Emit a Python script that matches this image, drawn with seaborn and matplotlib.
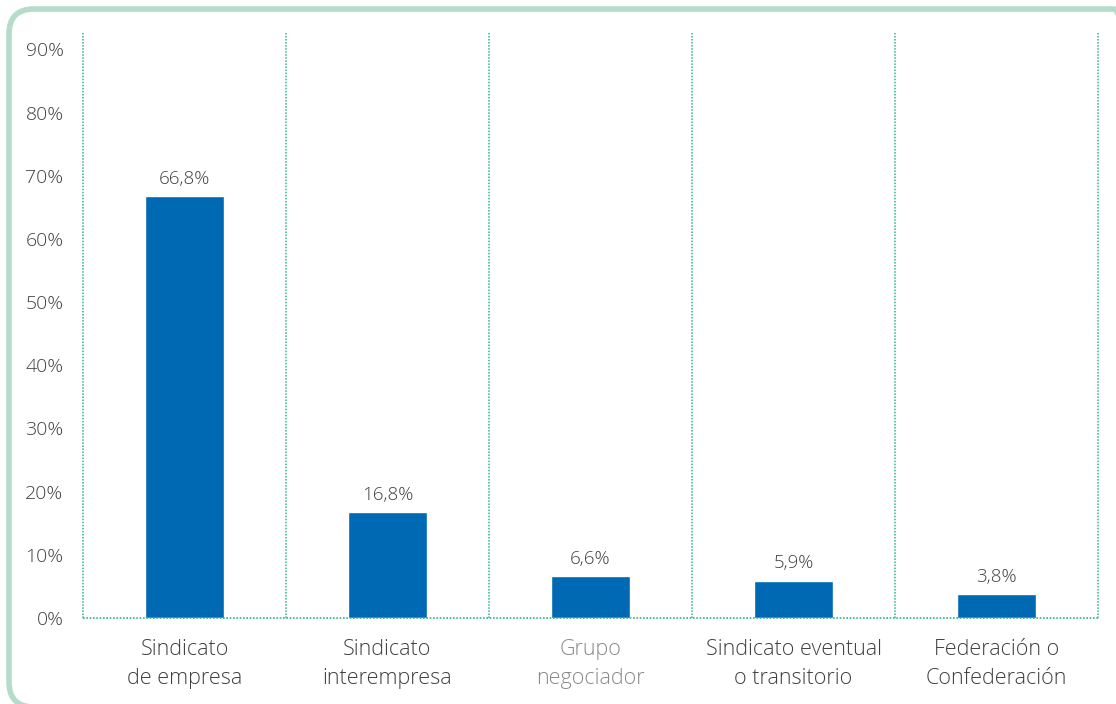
import matplotlib
matplotlib.use("Agg")
import matplotlib.pyplot as plt
from matplotlib.patches import FancyBboxPatch
import seaborn as sns
import pandas as pd

categorias = ["Sindicato\nde empresa", "Sindicato\ninterempresa", "Grupo\nnegociador",
              "Sindicato eventual\no transitorio", "Federación o\nConfederación"]
porcentajes = [66.8, 16.8, 6.6, 5.9, 3.8]
yticks = [0, 10, 20, 30, 40, 50, 60, 70, 80, 90]

df = pd.DataFrame({"cat": categorias, "pct": porcentajes})

sns.set_style("white")
plt.rcParams["font.family"] = ["Open Sans", "DejaVu Sans"]
plt.rcParams["font.weight"] = "light"

W, H = 1116, 704
fig = plt.figure(figsize=(W / 100, H / 100), dpi=100)
ax = fig.add_axes([83 / W, 86 / H, 1015 / W, 585 / H])

# marco redondeado (en pulgadas para que las esquinas sean circulares)
frame = FancyBboxPatch((0.09, -0.03), 11.3, 7.04 - 0.09 + 0.03,
                       transform=fig.dpi_scale_trans,
                       boxstyle="round,pad=0,rounding_size=0.25",
                       fill=False, edgecolor="#b5dccb", linewidth=4, zorder=0)
fig.patches.append(frame)

sns.barplot(data=df, x="cat", y="pct", color="#0069b4", width=0.385,
            saturation=1, ax=ax, zorder=3)

for c in ax.containers:
    ax.bar_label(c, labels=[f"{v:.1f}%".replace(".", ",") for v in porcentajes],
                 padding=6, fontsize=13.5, color="#404040", fontweight="light")

verde = "#2bb58a"
for x in [-0.5, 0.5, 1.5, 2.5, 3.5, 4.5]:
    ax.axvline(x, color=verde, linestyle=(0, (1, 1)), linewidth=1.1, zorder=1,
               clip_on=False)
ax.axhline(0, color=verde, linestyle=(0, (1, 1)), linewidth=1.2, zorder=4,
           clip_on=False)

ax.set_xlim(-0.5, 4.5)
ax.set_ylim(0, 92.6)
ax.set_yticks(yticks)
ax.set_yticklabels([f"{t}%" for t in yticks], fontsize=14, color="#404040",
                   fontweight="light")
ax.tick_params(axis="y", length=0, pad=14)
ax.tick_params(axis="x", length=0, pad=15, labelsize=15.5, labelcolor="#404040")
for i, lab in enumerate(ax.get_xticklabels()):
    lab.set_linespacing(1.5)
    lab.set_fontweight("light")
    if i == 2:
        lab.set_color("#8a8a8a")
ax.set_xlabel("")
ax.set_ylabel("")
sns.despine(ax=ax, left=True, bottom=True)

fig.savefig("out.png", dpi=100)
